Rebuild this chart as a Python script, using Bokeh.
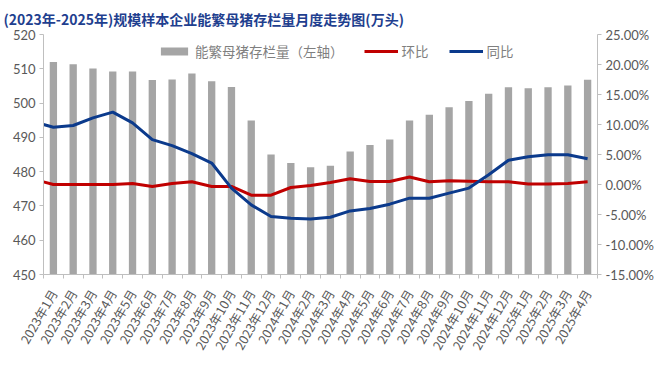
import math
from bokeh.plotting import figure
from bokeh.models import (LinearAxis, Range1d, FixedTicker, PrintfTickFormatter,
                          Legend, LegendItem, ColumnDataSource, Title)
from bokeh.embed import file_html
from bokeh.resources import INLINE

months = ["2023年1月", "2023年2月", "2023年3月", "2023年4月", "2023年5月", "2023年6月",
          "2023年7月", "2023年8月", "2023年9月", "2023年10月", "2023年11月", "2023年12月",
          "2024年1月", "2024年2月", "2024年3月", "2024年4月", "2024年5月", "2024年6月",
          "2024年7月", "2024年8月", "2024年9月", "2024年10月", "2024年11月", "2024年12月",
          "2025年1月", "2025年2月", "2025年3月", "2025年4月"]
sow_stock = [512.0, 511.3, 510.1, 509.2, 509.2, 506.7, 506.9, 508.6, 506.4, 504.7,
             494.9, 485.0, 482.5, 481.3, 481.7, 485.9, 487.8, 489.4, 494.9, 496.6,
             498.8, 500.6, 502.7, 504.6, 504.3, 504.6, 505.1, 506.8]
mom_pct = [0.0, 0.0, 0.0, 0.0, 0.17, -0.32, 0.17, 0.45, -0.32, -0.32,
           -1.78, -1.78, -0.5, -0.16, 0.35, 0.95, 0.5, 0.5, 1.24, 0.45,
           0.62, 0.55, 0.45, 0.45, 0.07, 0.07, 0.17, 0.44]
yoy_pct = [9.55, 9.83, 11.1, 12.06, 10.27, 7.48, 6.47, 5.13, 3.58, -0.6,
           -3.4, -5.34, -5.63, -5.74, -5.46, -4.4, -4.0, -3.28, -2.28, -2.28,
           -1.44, -0.6, 1.62, 4.03, 4.63, 4.97, 4.97, 4.3]
mom_start = 0.44
yoy_start = 9.99
left_ticks = [450, 460, 470, 480, 490, 500, 510, 520]
right_ticks = [-15, -10, -5, 0, 5, 10, 15, 20, 25]

title_text = "(2023年-2025年)规模样本企业能繁母猪存栏量月度走势图(万头)"
GRAY_TXT = "#595959"
AXIS_C = "#BFBFBF"
FONT = "Noto Sans CJK SC"

n = len(months)
xs = list(range(1, n + 1))

p = figure(frame_width=554, frame_height=240, output_backend="svg", toolbar_location=None,
           x_range=Range1d(0.5, n + 0.5), y_range=Range1d(left_ticks[0], left_ticks[-1]),
           min_border_left=43, min_border_right=55, min_border_top=5, min_border_bottom=2)
p.outline_line_color = None
p.grid.visible = False
p.background_fill_color = "white"

t = Title(text=title_text, align="left", offset=-40, text_font=FONT, text_font_size="14px",
          text_font_style="bold", text_color="#1F3F8F", standoff=12)
p.add_layout(t, "above")

p.extra_y_ranges = {"pct": Range1d(right_ticks[0], right_ticks[-1])}

src = ColumnDataSource(dict(x=xs, sow=sow_stock))
bars = p.vbar(x="x", top="sow", bottom=left_ticks[0], width=0.37, source=src,
              fill_color="#A5A5A5", line_color=None)

x0 = p.x_range.start
red = p.line([x0] + xs, [mom_start] + mom_pct, y_range_name="pct",
             line_color="#C00000", line_width=3, line_join="round")
blue = p.line([x0] + xs, [yoy_start] + yoy_pct, y_range_name="pct",
              line_color="#0B3A8C", line_width=3, line_join="round")

# x axis
xa = p.xaxis[0]
xa.ticker = FixedTicker(ticks=xs, minor_ticks=[i + 0.5 for i in range(0, n + 1)])
xa.major_label_overrides = {i + 1: m for i, m in enumerate(months)}
xa.major_label_orientation = math.pi / 3
xa.major_tick_line_color = None
xa.minor_tick_in = 0
xa.minor_tick_out = 4
xa.minor_tick_line_color = AXIS_C
xa.axis_line_color = AXIS_C
xa.major_label_text_font = FONT
xa.major_label_text_font_size = "12.5px"
xa.major_label_text_color = GRAY_TXT
xa.major_label_standoff = 10

ya = p.yaxis[0]
ya.ticker = FixedTicker(ticks=left_ticks)
ya.minor_tick_line_color = None
ya.major_tick_in = 0
ya.major_tick_out = 4
ya.major_tick_line_color = AXIS_C
ya.axis_line_color = AXIS_C
ya.major_label_text_font = "Lato"
ya.major_label_text_font_size = "13px"
ya.major_label_text_color = GRAY_TXT
ya.major_label_standoff = 4

ra = LinearAxis(y_range_name="pct", ticker=FixedTicker(ticks=right_ticks),
                formatter=PrintfTickFormatter(format="%.2f%%"))
ra.minor_tick_line_color = None
ra.major_tick_in = 0
ra.major_tick_out = 4
ra.major_tick_line_color = AXIS_C
ra.axis_line_color = AXIS_C
ra.major_label_text_font = "Lato"
ra.major_label_text_font_size = "13px"
ra.major_label_text_color = GRAY_TXT
ra.major_label_standoff = 4
p.add_layout(ra, "right")

legend = Legend(items=[LegendItem(label="能繁母猪存栏量（左轴）", renderers=[bars]),
                       LegendItem(label="环比", renderers=[red]),
                       LegendItem(label="同比", renderers=[blue])],
                orientation="horizontal", location=(114, 213),
                glyph_width=34, glyph_height=10, label_standoff=4, spacing=20,
                padding=0, margin=0, border_line_color=None, background_fill_alpha=0,
                label_text_font=FONT, label_text_font_size="13.5px", label_text_color="#7F7F7F")
p.add_layout(legend, "center")

open("out.html", "w").write(file_html(p, INLINE))
